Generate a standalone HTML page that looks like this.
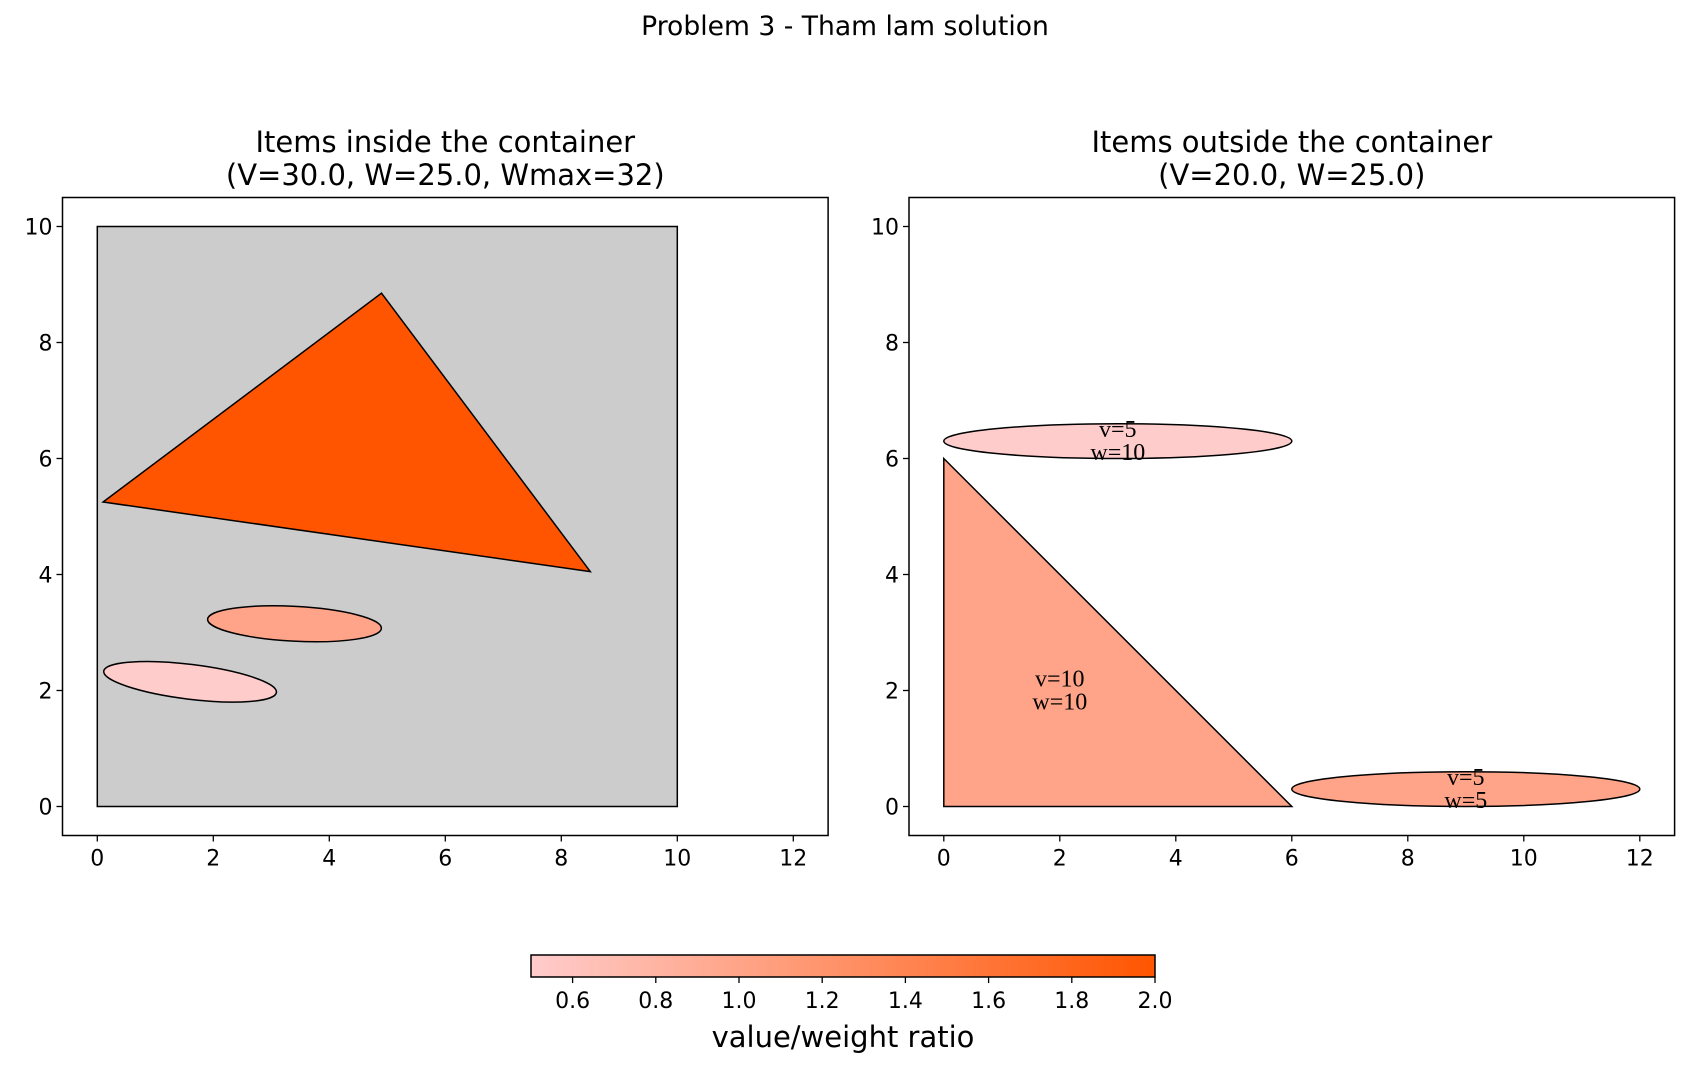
<!DOCTYPE html>
<html><head><meta charset="utf-8"><style>
html,body{margin:0;padding:0;background:#fff;}
svg{display:block;font-family:"DejaVu Sans","Liberation Sans",sans-serif;}
</style></head><body>
<svg id="fig" width="1690" height="1069" viewBox="0 0 1690 1069" xmlns="http://www.w3.org/2000/svg">
<text x="845" y="35" font-size="26.6" text-anchor="middle">Problem 3 - Tham lam solution</text>
<g id="axL"></g>
<g id="axR"></g>
<g id="cbar"></g>
</svg>
<script>
const NS="http://www.w3.org/2000/svg";
const xTicks=[0,2,4,6,8,10,12];
const yTicks=[0,2,4,6,8,10];
const cbTicks=[0.6,0.8,1.0,1.2,1.4,1.6,1.8,2.0];
const cbTickLabels=["0.6","0.8","1.0","1.2","1.4","1.6","1.8","2.0"];
// inside items
const inTriangle=[[0.1,5.25],[4.9,8.85],[8.5,4.05]];
const inTriangleRatio=2.0;
const inEllCx=[3.4,1.6], inEllCy=[3.15,2.15], inEllW=[3,3], inEllH=[0.6,0.6], inEllAng=[-3,-7], inEllRatio=[1.0,0.5];
// outside items
const outTriangle=[[0,0],[6,0],[0,6]];
const outTriangleRatio=1.0;
const outTriLabel=["v=10","w=10"], outTriLabelPos=[2,2];
const outEllCx=[3,9], outEllCy=[6.3,0.3], outEllW=[6,6], outEllH=[0.6,0.6], outEllRatio=[0.5,1.0];
const outEllLabels=[["v=5","w=10"],["v=5","w=5"]];

function cmap(r){let t=Math.max(0,Math.min(1,(r-0.5)/1.5));
 const g=Math.round(204+(85-204)*t), b=Math.round(204+(0-204)*t);
 return `rgb(255,${g},${b})`;}
function mk(tag,attrs,parent){const e=document.createElementNS(NS,tag);for(const k in attrs)e.setAttribute(k,attrs[k]);parent.appendChild(e);return e;}

function axes(g,left,title1,title2){
 const U=58, top=197.5, bottom=835.5, right=left+13.2*U;
 const X=v=>left+(v+0.6)*U, Y=v=>bottom-(v+0.5)*U;
 let t=mk('text',{x:(left+right)/2,y:152,'font-size':29,'text-anchor':'middle'},g);t.textContent=title1;
 
 
 t=mk('text',{x:(left+right)/2,y:185,'font-size':29,'text-anchor':'middle'},g);t.textContent=title2;
 
 
 const shapes=mk('g',{},g);
 xTicks.forEach(v=>{mk('line',{x1:X(v),x2:X(v),y1:bottom,y2:bottom+6,stroke:'#000','stroke-width':1.3},g);
  const l=mk('text',{x:X(v),y:bottom+30,'font-size':22,'text-anchor':'middle'},g);l.textContent=v;
  
  });
 yTicks.forEach(v=>{mk('line',{x1:left-6,x2:left,y1:Y(v),y2:Y(v),stroke:'#000','stroke-width':1.3},g);
  const l=mk('text',{x:left-10,y:Y(v)+8,'font-size':22,'text-anchor':'end'},g);l.textContent=v;
  
  });
 const f=mk('rect',{x:left,y:top,width:right-left,height:bottom-top,fill:'none',stroke:'#000','stroke-width':1.5},g);
 
 
 return {X,Y,U,shapes};
}
function poly(a,pts,fill,name){const p=mk('polygon',{points:pts.map(q=>a.X(q[0])+','+a.Y(q[1])).join(' '),fill:fill,stroke:'#000','stroke-width':1.5},a.shapes);
 
 }
function ell(a,cx,cy,w,h,ang,fill,name){const e=mk('ellipse',{cx:a.X(cx),cy:a.Y(cy),rx:w/2*a.U,ry:h/2*a.U,fill:fill,stroke:'#000','stroke-width':1.5,transform:`rotate(${-ang} ${a.X(cx)} ${a.Y(cy)})`},a.shapes);
 
 }
function lbl(a,x,y,lines){const t=mk('text',{x:a.X(x),y:a.Y(y)-4,'font-size':24,'text-anchor':'middle','font-family':'"Liberation Serif","DejaVu Serif",serif'},a.shapes);
 
 
 lines.forEach((s,i)=>{const ts=mk('tspan',{x:a.X(x),dy:i==0?0:23},t);ts.textContent=s;});}

const L=axes(document.getElementById('axL'),62.5,'Items inside the container','(V=30.0, W=25.0, Wmax=32)');
const cont=mk('rect',{x:L.X(0),y:L.Y(10),width:10*L.U,height:10*L.U,fill:'#cccccc',stroke:'#000','stroke-width':1.5},L.shapes);


poly(L,inTriangle,cmap(inTriangleRatio),'inside-triangle');
inEllCx.forEach((c,i)=>ell(L,c,inEllCy[i],inEllW[i],inEllH[i],inEllAng[i],cmap(inEllRatio[i]),'inside-ellipse'));

const R=axes(document.getElementById('axR'),909,'Items outside the container','(V=20.0, W=25.0)');
poly(R,outTriangle,cmap(outTriangleRatio),'outside-triangle');
lbl(R,outTriLabelPos[0],outTriLabelPos[1],outTriLabel);
outEllCx.forEach((c,i)=>{ell(R,c,outEllCy[i],outEllW[i],outEllH[i],0,cmap(outEllRatio[i]),'outside-ellipse');lbl(R,c,outEllCy[i],outEllLabels[i]);});

// colorbar
const cb=document.getElementById('cbar');
const cbL=531,cbR=1155,cbT=955,cbB=977,CX=v=>cbL+(v-0.5)/1.5*(cbR-cbL);
const defs=mk('defs',{},cb);const lg=mk('linearGradient',{id:'grad',x1:0,x2:1,y1:0,y2:0},defs);
mk('stop',{offset:0,'stop-color':cmap(0.5)},lg);mk('stop',{offset:1,'stop-color':cmap(2.0)},lg);
const bar=mk('rect',{x:cbL,y:cbT,width:cbR-cbL,height:cbB-cbT,fill:'url(#grad)',stroke:'#000','stroke-width':1.5},cb);


cbTicks.forEach((v,i)=>{mk('line',{x1:CX(v),x2:CX(v),y1:cbB,y2:cbB+6,stroke:'#000','stroke-width':1.3},cb);
 const l=mk('text',{x:CX(v),y:cbB+31,'font-size':22,'text-anchor':'middle'},cb);l.textContent=cbTickLabels[i];
 
 });
const cl=mk('text',{x:(cbL+cbR)/2,y:1047,'font-size':29,'text-anchor':'middle'},cb);cl.textContent='value/weight ratio';


</script>
</body></html>
